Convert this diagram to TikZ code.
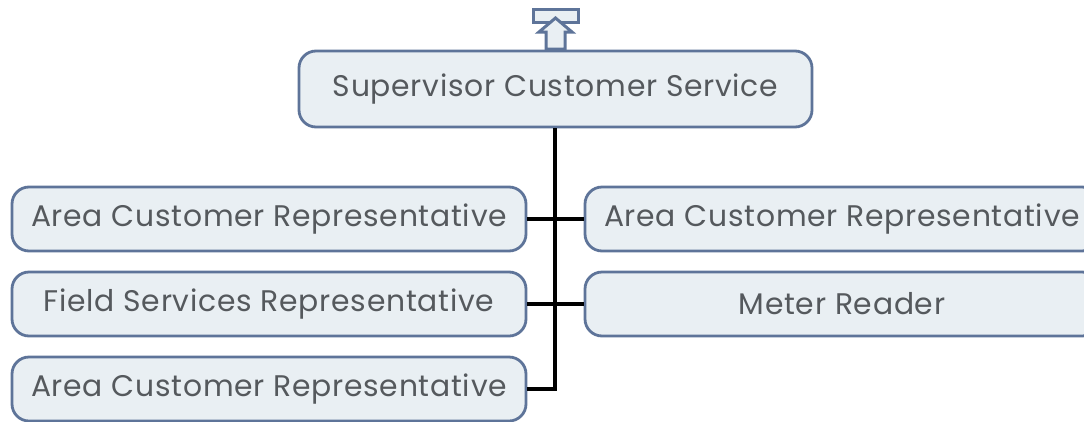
\documentclass[tikz,border=0pt]{standalone}
\usepackage{fontspec}
\setmainfont[LetterSpace=2.5]{Poppins}
\definecolor{boxfill}{HTML}{E9EFF3}
\definecolor{boxline}{HTML}{5E7499}
\definecolor{txt}{HTML}{55595D}
\newcommand{\lowtxt}[1]{\raisebox{-2pt}{#1}}
\begin{document}
\begin{tikzpicture}[x=1pt,y=-1pt,
  orgbox/.style={draw=boxline,fill=boxfill,line width=2.8pt,rounded corners=17pt,
    minimum width=514pt,minimum height=64pt,inner sep=0pt,text=txt,
    font=\fontsize{29.8}{32}\selectfont},
  conn/.style={draw=black,line width=3.2pt}]
\useasboundingbox (0,0) rectangle (1084,421);
\node[orgbox,minimum width=513pt,minimum height=76pt] (top) at (555.5,89) {\lowtxt{Supervisor Customer Service}};
\node[orgbox] (l1) at (269,219) {\lowtxt{Area Customer Representative}};
\node[orgbox] (l2) at (269,304) {\lowtxt{Field Services Representative}};
\node[orgbox] (l3) at (269,389) {\lowtxt{Area Customer Representative}};
\node[orgbox] (r1) at (842,219) {\lowtxt{Area Customer Representative}};
\node[orgbox] (r2) at (842,304) {\lowtxt{Meter Reader}};
\coordinate (j3) at (555,389);
\draw[conn] (top.south -| j3) -- (j3) -- (l3.east);
\draw[conn] (l1.east) -- (r1.west);
\draw[conn] (l2.east) -- (r2.west);
% icon
\draw[draw=boxline,fill=boxfill,line width=3pt,line join=miter]
  (533,9) rectangle (578,22);
\draw[draw=boxline,fill=boxfill,line width=3pt,line join=miter]
  (546,49) -- (546,32) -- (539,32) -- (555.5,18) -- (572,32) -- (565,32) -- (565,49) -- cycle;
\end{tikzpicture}
\end{document}
